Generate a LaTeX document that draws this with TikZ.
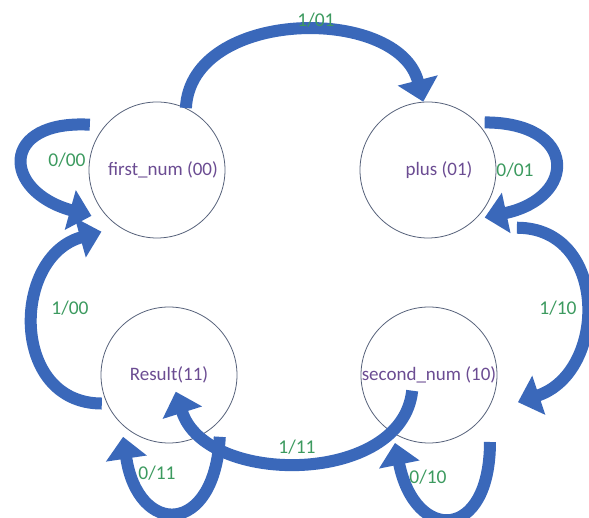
\documentclass[tikz,border=0pt]{standalone}
\usepackage{fontspec}
\setmainfont{Carlito}
\usetikzlibrary{arrows.meta, calc}

\definecolor{arrowblue}{HTML}{3A68BA}
\definecolor{ringgray}{HTML}{56617A}
\definecolor{statepurple}{HTML}{6B4C92}
\definecolor{labelgreen}{HTML}{3C9A5F}

\begin{document}
\begin{tikzpicture}[
    x=1pt, y=1pt,
    st/.style={circle, draw=ringgray, line width=0.8pt, minimum size=136pt, inner sep=0pt, font=\fontsize{19}{21}\selectfont, text=statepurple},
    lbl/.style={font=\fontsize{19.5}{21}\selectfont, text=labelgreen, inner sep=0pt},
    arr/.style={-{Triangle[width=40pt, length=22pt]}, line width=12pt, draw=arrowblue},
]
\useasboundingbox (0,0) rectangle (589,518);

% States
\node[st] (first) at (157,348) {\hspace{12pt}first\_num (00)};
\node[st] (plus) at (428,348) {\hspace{22pt}plus (01)};
\node[st] (result) at (169,143) {Result(11)\hspace{52pt}};
\node[st] (second) at (429,143) {second\_num (10)};

% Arrows
\draw[arr] (first.65) .. controls +(5,100) and +(-25,97) .. (plus.94);
\draw[arr] ($(first)+(146:81)$) .. controls +(-90,5) and +(-90,25) .. ($(first)+(215:80)$);
\draw[arr] ($(result)+(203:73)$) .. controls +(-92,0) and +(-90,-25) .. ($(first)+(228:83)$);
\draw[arr] ($(plus)+(40:74)$) .. controls +(93,0) and +(93,20) .. ($(plus)+(-40:74)$);
\draw[arr] ($(plus)+(-33:106)$) .. controls +(92,0) and +(90,30) .. ($(second)+(-17:93)$);
\draw[arr] ($(result)+(-50.6:80)$) .. controls +(-5,-100) and +(15,-100) .. ($(result)+(233.4:77)$);
\draw[arr] ($(second)+(-47.7:90.6)$) .. controls +(0,-100) and +(20,-100) .. ($(second)+(243.4:76)$);
\draw[arr] ($(second)+(223:23)$) .. controls +(-10,-95) and +(30,-95) .. ($(result)+(-68:18)$);

% Labels
\node[lbl] (t0101) at (316,498) {1/01};
\node[lbl] (t0000) at (67,358) {0/00};
\node[lbl] (t1000) at (70,210) {1/00};
\node[lbl] (t0001) at (515,348) {0/01};
\node[lbl] (t1110) at (558,210) {1/10};
\node[lbl] (t1111) at (297,71) {1/11};
\node[lbl] (t0011) at (157,45) {0/11};
\node[lbl] (t0010) at (428,41) {0/10};
\end{tikzpicture}
\end{document}
